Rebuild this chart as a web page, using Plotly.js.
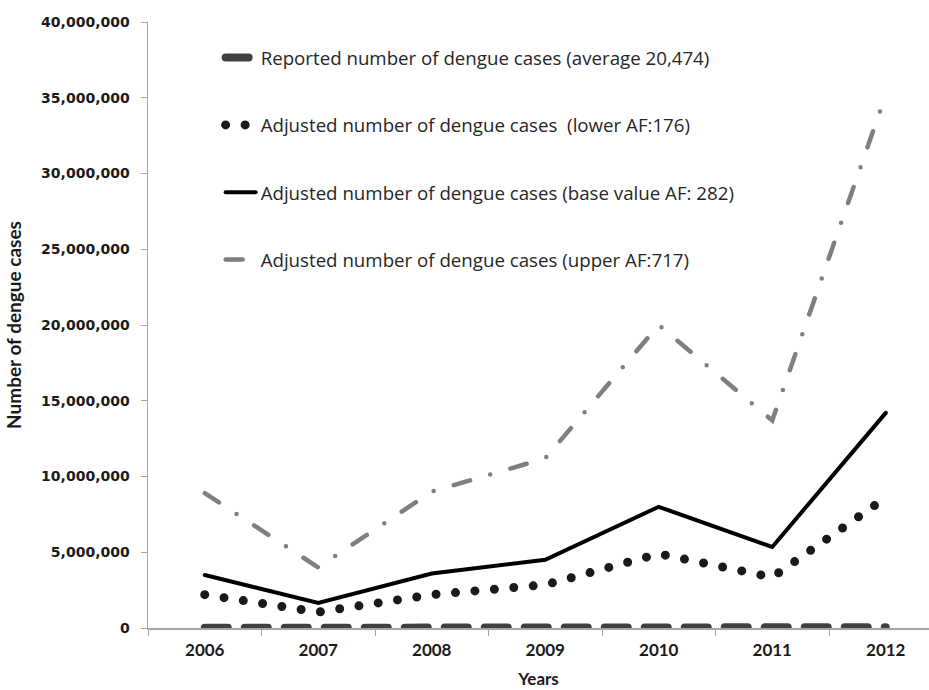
<!DOCTYPE html>
<html>
<head>
<meta charset="utf-8">
<script src="https://cdn.plot.ly/plotly-3.0.1.min.js"></script>
<style>
html,body{margin:0;padding:0;background:#fff;}
#chart{width:929px;height:690px;}
path.js-line{stroke-linecap:round;}
</style>
</head>
<body>
<div id="chart"></div>
<script>
// Data
const years = ["2006", "2007", "2008", "2009", "2010", "2011", "2012"];
const reported = [12400, 5900, 12800, 16000, 28400, 19000, 50400];
const lowerAF = [2200000, 1050000, 2200000, 2850000, 4900000, 3350000, 8600000];
const baseAF = [3500000, 1650000, 3600000, 4500000, 8000000, 5350000, 14200000];
const upperAF = [8900000, 4000000, 9000000, 11200000, 20000000, 13700000, 35200000];
const seriesNames = [
  "Reported number of dengue cases (average 20,474)",
  "Adjusted number of dengue cases  (lower AF:176)",
  "Adjusted number of dengue cases (base value AF: 282)",
  "Adjusted number of dengue cases (upper AF:717)"
];
const yTicks = [0, 5000000, 10000000, 15000000, 20000000, 25000000, 30000000, 35000000, 40000000];

const traces = [
  {x: years, y: reported, name: seriesNames[0], legendgroup: "a", mode: "lines",
   line: {color: "#404040", width: 8, dash: "23px,17px"}},
  {x: years, y: lowerAF, name: seriesNames[1], legendgroup: "b", mode: "lines",
   line: {color: "#1a1a1a", width: 9, dash: "0px,19.5px"}},
  {x: years, y: baseAF, name: seriesNames[2], legendgroup: "c", mode: "lines",
   line: {color: "#000000", width: 4}},
  {x: years, y: upperAF, name: seriesNames[3], legendgroup: "d", mode: "lines",
   line: {color: "#7f7f7f", width: 4.5, dash: "17px,21px,0px,21px"}}
];

const layout = {
  width: 929, height: 690,
  margin: {l: 148, r: 0, t: 22, b: 62},
  paper_bgcolor: "#fff", plot_bgcolor: "#fff",
  showlegend: true,
  legend: {x: 0.093, y: 0.972, xanchor: "left", yanchor: "top",
           bgcolor: "rgba(0,0,0,0)", traceorder: "grouped", tracegroupgap: 40,
           font: {family: "Open Sans, sans-serif", size: 18.7, color: "#262626"}},
  xaxis: {type: "category", range: [-0.5, 6.381], tickson: "boundaries",
          ticks: "outside", ticklen: 6, tickcolor: "#a6a6a6", showgrid: false,
          showline: true, linecolor: "#a6a6a6", linewidth: 1.5, zeroline: false,
          ticklabelstandoff: 6,
          tickfont: {family: "Lato, sans-serif", size: 17, color: "#1a1a1a", weight: "bold"},
          title: {text: "Years", standoff: 14,
                  font: {family: "Lato, sans-serif", size: 17, color: "#1a1a1a", weight: "bold"}}},
  yaxis: {range: [0, 40000000], tickvals: yTicks, tickformat: ",d",
          ticks: "outside", ticklen: 6, tickcolor: "#a6a6a6", showgrid: false,
          showline: true, linecolor: "#a6a6a6", linewidth: 1.5, zeroline: false,
          ticklabelstandoff: 8,
          tickfont: {family: "DejaVu Sans, sans-serif", size: 14, color: "#1a1a1a", weight: "bold"},
          title: {text: "Number of dengue cases", standoff: 14,
                  font: {family: "Lato, sans-serif", size: 19, color: "#1a1a1a", weight: "bold"}}}
};

Plotly.newPlot("chart", traces, layout, {displayModeBar: false, staticPlot: true});
</script>
</body>
</html>
